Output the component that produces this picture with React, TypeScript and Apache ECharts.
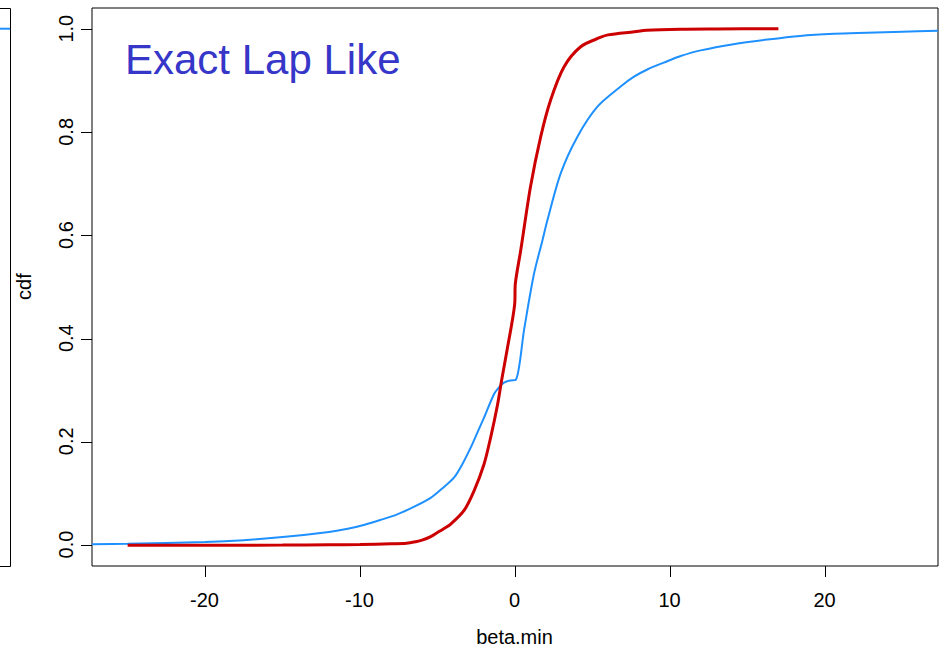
import React, { useEffect, useRef } from "react";
import * as echarts from "echarts";

const redX = [-25, -20, -15, -12, -10, -8, -7, -6.4, -6, -5.44, -5, -4.6, -4.15, -3.3, -2.65, -2.0, -1.57, -1.14, -0.86, -0.5, -0.02, 0.02, 0.37, 1.0, 1.66, 2.3, 3.16, 4.24, 5.5, 6.0, 7.7, 8.5, 10.7, 13, 17];
const redY = [0, 0.0002, 0.0005, 0.001, 0.0015, 0.003, 0.004, 0.007, 0.01, 0.017, 0.025, 0.032, 0.041, 0.067, 0.105, 0.157, 0.209, 0.27, 0.32, 0.38, 0.467, 0.506, 0.571, 0.694, 0.791, 0.862, 0.926, 0.965, 0.983, 0.988, 0.994, 0.997, 0.999, 0.9995, 1.0];

const blueX = [-27.3, -25, -20, -17.5, -15, -12, -10.8, -9.7, -8.7, -7.6, -6.5, -5.44, -4.7, -3.94, -3.4, -2.86, -2.4, -2.0, -1.35, -1.0, -0.71, -0.3, 0.05, 0.6, 1.23, 1.77, 2.09, 2.95, 4.03, 5.32, 6.82, 7.68, 8.54, 9.83, 10.69, 11.98, 14.1, 16.3, 18.4, 20.6, 22.7, 25, 27.3];
const blueY = [0.002, 0.003, 0.0065, 0.01, 0.016, 0.026, 0.032, 0.04, 0.049, 0.06, 0.075, 0.092, 0.11, 0.131, 0.157, 0.189, 0.22, 0.247, 0.293, 0.307, 0.315, 0.319, 0.32, 0.42, 0.526, 0.59, 0.629, 0.72, 0.791, 0.849, 0.888, 0.907, 0.921, 0.937, 0.947, 0.958, 0.97, 0.979, 0.986, 0.99, 0.992, 0.994, 0.996];

// plot ranges (R style: data range + 4%)
const xMin = -27.3;
const xMax = 27.3;
const yMin = -0.04;
const yMax = 1.04;
// ticks
const xTicks = [-20, -10, 0, 10, 20];
const yTicks = [0, 0.2, 0.4, 0.6, 0.8, 1.0];
const xTickMin = -20;
const xTickMax = 20;
const xTickStep = 10;
const yTickMin = 0;
const yTickMax = 1;
const yTickStep = 0.2;

const FONT = "'Liberation Sans', Arial, Helvetica, sans-serif";
const TXT = { fontSize: 20, color: "#000", fontFamily: FONT };

const GRID = { left: 92, top: 8, width: 846, height: 558 };

export default function App() {
  const ref = useRef<HTMLDivElement>(null);
  useEffect(() => {
    document.body.style.margin = "0";
    const chart = echarts.init(ref.current!, null, { renderer: "svg" });
    const hiddenAxis = (gridIndex: number) => ({
      type: "value",
      gridIndex,
      min: 0,
      max: 1,
      show: false,
      axisLine: { show: false, onZero: false },
      splitLine: { show: false },
    });
    const baseGraphics: any[] = [
      { type: "line", shape: { x1: 0, y1: 8.5, x2: 10.5, y2: 8.5 }, style: { stroke: "#000", lineWidth: 1 } },
      { type: "line", shape: { x1: 10.5, y1: 8.5, x2: 10.5, y2: 566.5 }, style: { stroke: "#000", lineWidth: 1 } },
      { type: "line", shape: { x1: 0, y1: 566.5, x2: 10.5, y2: 566.5 }, style: { stroke: "#000", lineWidth: 1 } },
      { type: "line", shape: { x1: 0, y1: 28.7, x2: 10, y2: 28.7 }, style: { stroke: "#1E90FF", lineWidth: 2 } },
      {
        type: "text",
        x: 125,
        y: 59,
        style: { text: "Exact Lap Like", fontSize: 42, fontFamily: FONT, fill: "#3636C8", verticalAlign: "middle", align: "left" },
      },
    ];
    const option: any = {
      animation: false,
      backgroundColor: "#ffffff",
      grid: [
        { left: GRID.left, top: GRID.top, width: GRID.width, height: GRID.height, show: true, borderColor: "#000", borderWidth: 1, backgroundColor: "transparent" },
        { left: 204.5, right: 117.5, top: 566, height: 11, show: false },
        { left: 81, width: 11, top: 28.7, bottom: 107.5, show: false },
      ],
      xAxis: [
        { type: "value", gridIndex: 0, min: xMin, max: xMax, show: false, axisLine: { onZero: false }, splitLine: { show: false } },
        {
          type: "value",
          gridIndex: 1,
          min: xTickMin,
          max: xTickMax,
          interval: xTickStep,
          position: "bottom",
          axisLine: { show: false, onZero: false },
          axisTick: { show: false },
          splitLine: { show: false },
          axisLabel: { ...TXT, margin: 13, showMinLabel: true, showMaxLabel: true, formatter: (v: number) => String(v) },
          name: "beta.min",
          nameLocation: "middle",
          nameGap: 50,
          nameTextStyle: TXT,
        },
        hiddenAxis(2),
      ],
      yAxis: [
        { type: "value", gridIndex: 0, min: yMin, max: yMax, show: false, axisLine: { onZero: false }, splitLine: { show: false } },
        hiddenAxis(1),
        {
          type: "value",
          gridIndex: 2,
          min: yTickMin,
          max: yTickMax,
          interval: yTickStep,
          position: "left",
          axisLine: { show: false, onZero: false },
          axisTick: { show: false },
          splitLine: { show: false },
          axisLabel: { ...TXT, rotate: 90, margin: 5, showMinLabel: true, showMaxLabel: true, formatter: (v: number) => v.toFixed(1) },
          name: "cdf",
          nameLocation: "middle",
          nameRotate: 90,
          nameGap: 47,
          nameTextStyle: TXT,
        },
      ],
      graphic: baseGraphics,
      series: [
        {
          type: "line",
          xAxisIndex: 0,
          yAxisIndex: 0,
          data: blueX.map((x, i) => [x, blueY[i]]),
          showSymbol: false,
          smooth: 0.3,
          lineStyle: { color: "#1E90FF", width: 2 },
          itemStyle: { color: "#1E90FF" },
        },
        {
          type: "line",
          xAxisIndex: 0,
          yAxisIndex: 0,
          data: redX.map((x, i) => [x, redY[i]]),
          showSymbol: false,
          smooth: 0.3,
          lineStyle: { color: "#CC0000", width: 3 },
          itemStyle: { color: "#CC0000" },
        },
      ],
    };
    chart.setOption(option);

    // tick marks: positions from the data grid's coordinate system (fallback: same linear scale)
    const toPx = (xv: number, yv: number): [number, number] => {
      let p: any = null;
      try {
        p = chart.convertToPixel({ gridIndex: 0 }, [xv, yv]);
      } catch (e) {
        p = null;
      }
      if (!p || !isFinite(p[0]) || !isFinite(p[1])) {
        p = [
          GRID.left + ((xv - xMin) / (xMax - xMin)) * GRID.width,
          GRID.top + ((yMax - yv) / (yMax - yMin)) * GRID.height,
        ];
      }
      return [p[0], p[1]];
    };
    const tickGraphics: any[] = [];
    xTicks.forEach((v) => {
      const x = Math.round(toPx(v, 0)[0]) + 0.5;
      tickGraphics.push({ type: "line", z: 100, shape: { x1: x, y1: 566, x2: x, y2: 577 }, style: { stroke: "#000", lineWidth: 1 } });
    });
    yTicks.forEach((v) => {
      const y = Math.round(toPx(0, v)[1]) + 0.5;
      tickGraphics.push({ type: "line", z: 100, shape: { x1: 81, y1: y, x2: 92, y2: y }, style: { stroke: "#000", lineWidth: 1 } });
    });
    option.graphic = [...baseGraphics, ...tickGraphics];
    chart.setOption(option, true);
    return () => chart.dispose();
  }, []);
  return <div ref={ref} style={{ width: 942, height: 652 }} />;
}
